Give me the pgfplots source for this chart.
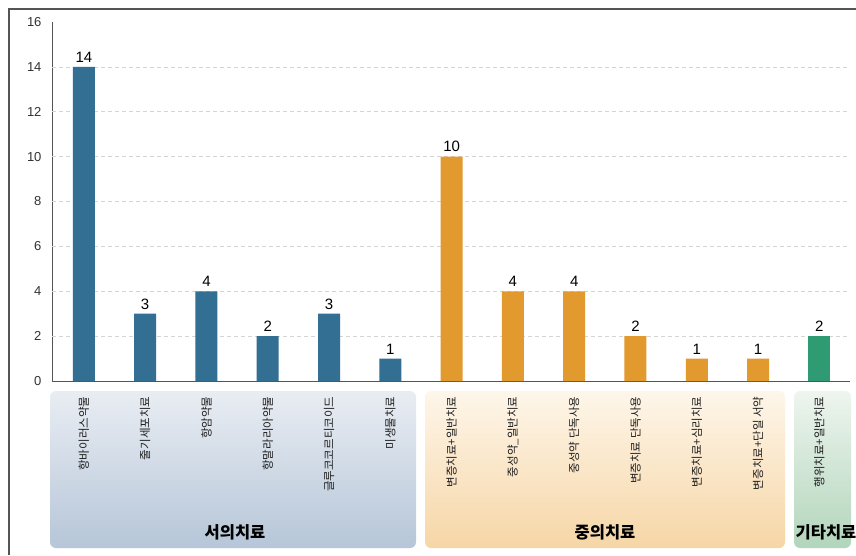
\documentclass[border=0pt]{standalone}
\usepackage{fontspec}
\setmainfont{Liberation Sans}
\newfontfamily\kr{Noto Sans CJK KR}
\usepackage{pgfplots}
\usepackage{pgfplotstable}
\pgfplotsset{compat=1.18}

\definecolor{barblue}{HTML}{336E93}
\definecolor{barorange}{HTML}{E2992E}
\definecolor{bargreen}{HTML}{2E9B72}
\definecolor{axisgray}{HTML}{555555}
\definecolor{gridgray}{HTML}{D4D4D4}
\definecolor{ticktext}{HTML}{333333}
\definecolor{labeltext}{HTML}{1E1E1E}
\definecolor{bluetop}{HTML}{E9EDF3}
\definecolor{bluebot}{HTML}{B6C6D8}
\definecolor{orangetop}{HTML}{FEF6EA}
\definecolor{orangebot}{HTML}{F6D6A6}
\definecolor{greentop}{HTML}{EEF5EF}
\definecolor{greenbot}{HTML}{B2D5BB}

\pgfplotstableread{
x y
0 14
1 3
2 4
3 2
4 3
5 1
}\westtab
\pgfplotstableread{
x y
6 10
7 4
8 4
9 2
10 1
11 1
}\easttab
\pgfplotstableread{
x y
12 2
}\othertab

\begin{document}
\begin{tikzpicture}[x=1pt,y=1pt]
\useasboundingbox (0,0) rectangle (856,555);
\fill[white] (0,0) rectangle (856,555);
% frame
\draw[axisgray, line width=1.4pt] (9,0) -- (9,546) -- (856,546);
% group boxes
\shade[top color=bluetop, bottom color=bluebot, rounded corners=6pt]
  (50,7) rectangle (416,164);
\shade[top color=orangetop, bottom color=orangebot, rounded corners=6pt]
  (425,7) rectangle (785,164);
\shade[top color=greentop, bottom color=greenbot, rounded corners=6pt]
  (794,7) rectangle (851,164);
\node[font=\kr\bfseries\fontsize{16.5}{17}\selectfont] at (235,23) {서의치료};
\node[font=\kr\bfseries\fontsize{16.5}{17}\selectfont] at (605,23) {중의치료};
\node[font=\kr\bfseries\fontsize{16.5}{17}\selectfont] at (826,23) {기타치료};

\begin{axis}[
  at={(52pt,174pt)}, anchor=south west,
  scale only axis,
  width=798pt, height=359pt,
  xmin=-0.52, xmax=12.5,
  ymin=0, ymax=16,
  axis x line*=bottom, axis y line*=left,
  axis line style={-, axisgray, line width=0.8pt},
  major tick length=0pt,
  ytick={0,2,...,16},
  extra y ticks={2,4,...,14},
  extra y tick labels={},
  extra y tick style={grid=major, major grid style={gridgray, dash pattern=on 4pt off 3pt, line width=0.6pt}},
  xtick={0,...,12},
  xticklabels={항바이러스약물, 줄기세포치료, 항암약물, 항말라리아약물, 글루코코르티코이드, 미생물치료,
    변증치료+일반치료, 중성약\_일반치료, 중성약 단독사용, 변증치료 단독사용, 변증치료+심리치료,
    변증치료+단일 서약, 행위치료+일반치료},
  xticklabel style={font=\kr\fontsize{11.5}{12}\selectfont, rotate=90, anchor=east, text=labeltext},
  xticklabel shift=12pt,
  yticklabel style={font=\fontsize{13}{13}\selectfont, text=ticktext, xshift=-7pt},
  /pgf/number format/assume math mode=true,
  ybar, bar width=22pt,
  nodes near coords,
  every node near coord/.append style={font=\fontsize{15}{15}\selectfont, text=black, yshift=1pt},
  clip=false,
]
\addplot[draw=none, fill=barblue, bar shift=0pt] table[x=x, y=y] {\westtab};
\addplot[draw=none, fill=barorange, bar shift=0pt] table[x=x, y=y] {\easttab};
\addplot[draw=none, fill=bargreen, bar shift=0pt] table[x=x, y=y] {\othertab};
\end{axis}
\end{tikzpicture}
\end{document}
